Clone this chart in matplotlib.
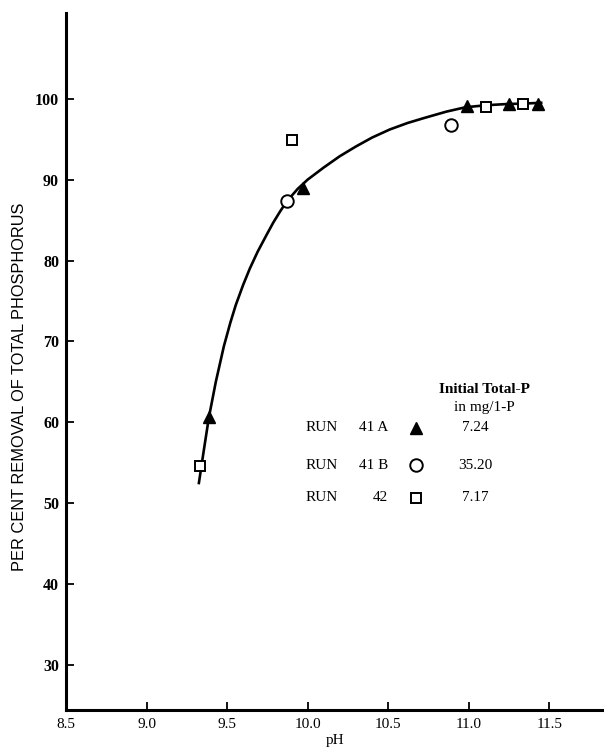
import matplotlib
matplotlib.use("Agg")
import matplotlib.pyplot as plt

run41a_ph = [9.39, 9.97, 10.99, 11.25, 11.43]
run41a_pct = [60.7, 89.0, 99.1, 99.3, 99.4]

run41b_ph = [9.87, 10.89]
run41b_pct = [87.4, 96.8]

run42_ph = [9.33, 9.90, 11.11, 11.34]
run42_pct = [54.6, 94.9, 99.0, 99.3]

# hand-drawn fitted curve
curve_ph = [9.325, 9.356, 9.387, 9.43, 9.48, 9.52, 9.554, 9.60, 9.641, 9.69,
            9.746, 9.787, 9.827, 9.87, 9.938, 10.0, 10.10, 10.20, 10.30,
            10.40, 10.51, 10.62, 10.72, 10.86, 10.98, 11.11, 11.24, 11.34,
            11.45]
curve_pct = [52.5, 56.6, 60.6, 65.0, 69.4, 72.3, 74.5, 77.0, 79.0, 81.1,
             83.2, 84.7, 86.0, 87.3, 88.85, 90.0, 91.5, 92.9, 94.1,
             95.2, 96.2, 97.0, 97.6, 98.4, 98.95, 99.2, 99.35, 99.4,
             99.5]

x_ticks = [8.5, 9.0, 9.5, 10.0, 10.5, 11.0, 11.5]
y_ticks = [30, 40, 50, 60, 70, 80, 90, 100]

legend_runs = ["41 A", "41 B", "42"]
legend_values = ["7.24", "35.20", "7.17"]

serif = "Liberation Serif"
sans = "Liberation Sans"

fig = plt.figure(figsize=(6.04, 7.52), dpi=100)
ax = fig.add_axes([66 / 604, 42 / 752, 538 / 604, 697 / 752])

ax.plot(curve_ph, curve_pct, color="black", lw=1.9, zorder=2,
        solid_joinstyle="round")
ax.plot(run41a_ph, run41a_pct, ls="none", marker="^", ms=8.5, color="black", zorder=3)
ax.plot(run41b_ph, run41b_pct, ls="none", marker="o", ms=9, mfc="white",
        mec="black", mew=1.4, zorder=3)
ax.plot(run42_ph, run42_pct, ls="none", marker="s", ms=7, mfc="white",
        mec="black", mew=1.4, zorder=3)

ax.set_xlim(8.5, 11.84)
ax.set_ylim(24.44, 110.6)
ax.set_xticks(x_ticks)
ax.set_xticklabels([f"{t:.1f}" for t in x_ticks], fontfamily=serif, fontsize=11)
ax.set_yticks(y_ticks)
ax.set_yticklabels([str(t) for t in y_ticks], fontfamily=serif, fontsize=11.5,
                   fontweight="bold")
ax.tick_params(axis="x", direction="in", length=6, width=1.3, pad=6)
ax.tick_params(axis="y", direction="in", length=6, width=1.3, pad=5)

for side in ["top", "right"]:
    ax.spines[side].set_visible(False)
for side in ["left", "bottom"]:
    ax.spines[side].set_linewidth(2.2)

ax.set_xlabel("pH", fontfamily=serif, fontsize=11, labelpad=2)
fig.text(20 / 604, 1 - 387 / 752, "PER CENT REMOVAL OF TOTAL PHOSPHORUS",
         rotation=90, ha="center", va="center", fontfamily=sans, fontsize=11.8)

# legend block
ax.text(11.10, 64.1, "Initial Total-P", ha="center", va="center",
        fontfamily=serif, fontsize=11, fontweight="bold")
ax.text(11.10, 61.8, "in mg/1-P", ha="center", va="center",
        fontfamily=serif, fontsize=11)
row_y = [59.3, 54.7, 50.7]
row_markers = [dict(marker="^", color="black", ms=8.5),
               dict(marker="o", mfc="white", mec="black", mew=1.4, ms=9),
               dict(marker="s", mfc="white", mec="black", mew=1.4, ms=7)]
for y, run, val, mk in zip(row_y, legend_runs, legend_values, row_markers):
    ax.text(9.99, y, "RUN", ha="left", va="center", fontfamily=serif, fontsize=11)
    ax.text(10.50, y, run, ha="right", va="center", fontfamily=serif, fontsize=11)
    ax.plot([10.674], [y], ls="none", **mk)
    ax.text(11.04, y, val, ha="center", va="center", fontfamily=serif, fontsize=11)

fig.savefig("out.png", dpi=100)
